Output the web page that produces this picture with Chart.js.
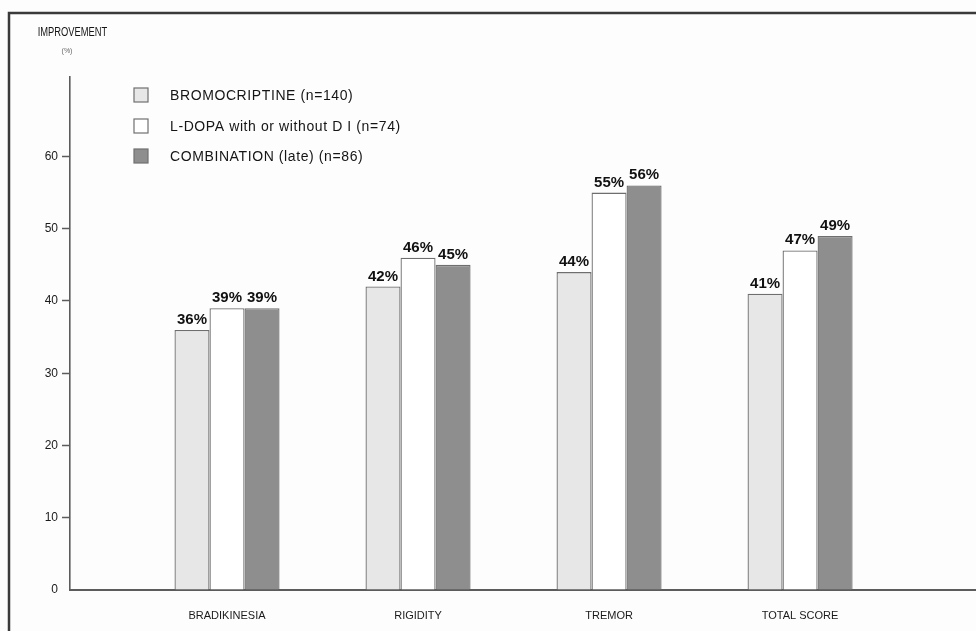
<!DOCTYPE html>
<html>
<head>
<meta charset="utf-8">
<script src="https://cdn.jsdelivr.net/npm/chart.js@4.4.1/dist/chart.umd.min.js"></script>
<style>
  html, body { margin: 0; padding: 0; background: #fdfdfd; }
  #wrap { width: 976px; height: 631px; position: relative; }
</style>
</head>
<body>
<div id="wrap"><canvas id="c" width="976" height="631"></canvas></div>
<script>
// Symptom categories and improvement (%) per treatment group
const categories = ['BRADIKINESIA', 'RIGIDITY', 'TREMOR', 'TOTAL SCORE'];
const seriesNames = ['BROMOCRIPTINE (n=140)', 'L-DOPA with or without D I (n=74)', 'COMBINATION (late) (n=86)'];
const bromocriptine = [36, 42, 44, 41];
const ldopa = [39, 46, 55, 47];
const combination = [39, 45, 56, 49];
const yTicks = [0, 10, 20, 30, 40, 50, 60];

const fills = ['#e7e7e7', '#ffffff', '#8e8e8e'];
const edge = '#6e6e6e';
const FONT = '"Liberation Sans", Arial, Helvetica, sans-serif';

const toPoints = arr => arr.map((v, i) => ({ x: i, y: v }));

// Frame lines, axis caption, legend and value labels
const decorations = {
  id: 'decorations',
  afterDraw(chart) {
    const ctx = chart.ctx;
    ctx.save();
    // frame (top and left)
    ctx.strokeStyle = '#3a3a3a';
    ctx.lineWidth = 2.5;
    ctx.beginPath();
    ctx.moveTo(9, 631);
    ctx.lineTo(9, 13);
    ctx.lineTo(976, 13);
    ctx.stroke();

    // y-axis caption
    ctx.fillStyle = '#151515';
    ctx.textAlign = 'center';
    ctx.textBaseline = 'middle';
    ctx.font = '12px ' + FONT;
    ctx.save();
    ctx.translate(72.5, 33);
    ctx.scale(0.78, 1);
    ctx.fillText('IMPROVEMENT', 0, 0);
    ctx.restore();
    ctx.font = '7px ' + FONT;
    ctx.fillStyle = '#666';
    ctx.fillText('(%)', 67, 51);

    // legend
    const rows = [95, 126, 156];
    chart.data.datasets.forEach((ds, i) => {
      const y = rows[i];
      ctx.fillStyle = ds.backgroundColor;
      ctx.fillRect(134, y - 7, 14, 14);
      ctx.strokeStyle = '#707070';
      ctx.lineWidth = 1.2;
      ctx.strokeRect(134, y - 7, 14, 14);
      ctx.fillStyle = '#151515';
      ctx.font = '14px ' + FONT;
      ctx.letterSpacing = '0.6px';
      ctx.textAlign = 'left';
      ctx.textBaseline = 'middle';
      ctx.fillText(ds.label, 170, y + 1);
      ctx.letterSpacing = '0px';
    });

    // value labels above bars
    ctx.font = 'bold 15px ' + FONT;
    ctx.fillStyle = '#111';
    ctx.textAlign = 'center';
    ctx.textBaseline = 'alphabetic';
    chart.data.datasets.forEach((ds, di) => {
      const meta = chart.getDatasetMeta(di);
      meta.data.forEach((bar, i) => {
        ctx.fillText(ds.data[i].y + '%', bar.x, bar.y - 6);
      });
    });
    ctx.restore();
  }
};

new Chart(document.getElementById('c'), {
  type: 'bar',
  data: {
    datasets: [
      { label: seriesNames[0], data: toPoints(bromocriptine), backgroundColor: fills[0] },
      { label: seriesNames[1], data: toPoints(ldopa), backgroundColor: fills[1] },
      { label: seriesNames[2], data: toPoints(combination), backgroundColor: fills[2] }
    ]
  },
  options: {
    responsive: false,
    animation: false,
    devicePixelRatio: 1,
    layout: { padding: { top: 77, left: 0, right: 0, bottom: 0 } },
    datasets: {
      bar: {
        borderColor: edge,
        borderWidth: 1.3,
        categoryPercentage: 0.55,
        barPercentage: 1.0
      }
    },
    plugins: {
      legend: { display: false },
      tooltip: { enabled: false }
    },
    scales: {
      x: {
        type: 'linear',
        offset: false,
        min: -0.822,
        max: 3.921,
        afterBuildTicks: s => { s.ticks = categories.map((c, i) => ({ value: i })); },
        afterFit: s => { s.height = 41; },
        grid: { display: false, drawTicks: false, offset: false },
        border: { display: true, color: '#5c5c5c', width: 2 },
        ticks: {
          callback: v => categories[v],
          autoSkip: false,
          maxRotation: 0,
          padding: 19,
          color: '#1a1a1a',
          font: { family: FONT, size: 11 }
        }
      },
      y: {
        min: 0,
        max: 71,
        afterBuildTicks: s => { s.ticks = yTicks.map(v => ({ value: v })); },
        afterFit: s => { s.width = 70; },
        grid: {
          drawOnChartArea: false,
          drawTicks: true,
          tickLength: 8,
          tickWidth: 1.5,
          tickColor: c => (c.tick && c.tick.value === 0 ? 'rgba(0,0,0,0)' : '#5c5c5c')
        },
        border: { display: true, color: '#5c5c5c', width: 1.6 },
        ticks: {
          padding: 4,
          color: '#1a1a1a',
          font: { family: FONT, size: 12 }
        }
      }
    }
  },
  plugins: [decorations]
});
</script>
</body>
</html>
